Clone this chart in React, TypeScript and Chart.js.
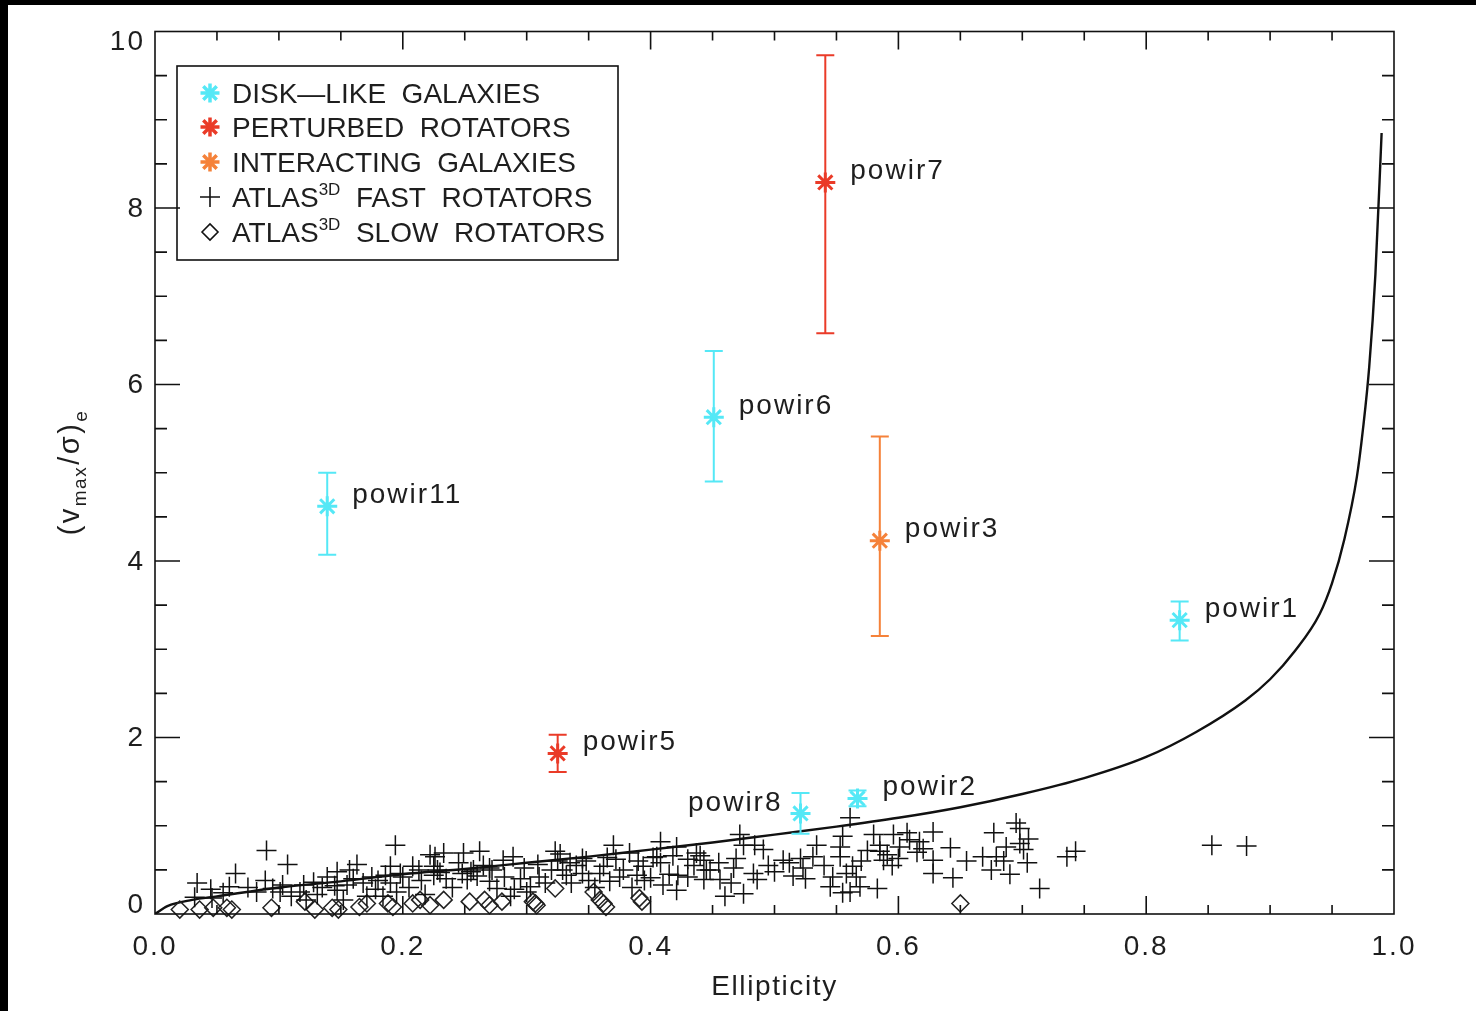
import React, { useEffect, useRef } from 'react';
import { Chart, registerables } from 'chart.js';
Chart.register(...registerables);

// ---- Theoretical edge-on rotator curve ----
const curveEps = [0, 0.01, 0.03, 0.05, 0.1, 0.15, 0.2, 0.25, 0.3, 0.35, 0.4, 0.45, 0.5, 0.55, 0.6, 0.65, 0.7, 0.75, 0.8, 0.84, 0.88, 0.9, 0.92, 0.94, 0.95, 0.96, 0.97, 0.975, 0.98, 0.985, 0.99];
const curveV = [0, 0.09, 0.16, 0.2, 0.3, 0.37, 0.45, 0.51, 0.58, 0.65, 0.73, 0.81, 0.9, 0.99, 1.09, 1.21, 1.36, 1.54, 1.78, 2.06, 2.42, 2.66, 2.98, 3.4, 3.75, 4.25, 4.95, 5.5, 6.2, 7.25, 8.85];

// ---- ATLAS3D fast rotators ----
const fastEps = [0.034, 0.032, 0.046, 0.060, 0.065, 0.055, 0.090, 0.089, 0.082, 0.107, 0.103, 0.101, 0.117, 0.122, 0.131, 0.139, 0.147, 0.157, 0.163, 0.147, 0.152, 0.168, 0.171, 0.194, 0.190, 0.190, 0.195, 0.184, 0.208, 0.213, 0.222, 0.225, 0.226, 0.233, 0.228, 0.225, 0.249, 0.262, 0.248, 0.252, 0.257, 0.270, 0.276, 0.281, 0.289, 0.282, 0.287, 0.303, 0.300, 0.309, 0.323, 0.327, 0.329, 0.332, 0.345, 0.336, 0.362, 0.359, 0.370, 0.367, 0.378, 0.383, 0.389, 0.394, 0.400, 0.408, 0.408, 0.421, 0.422, 0.421, 0.410, 0.437, 0.445, 0.443, 0.456, 0.443, 0.448, 0.472, 0.475, 0.484, 0.469, 0.467, 0.460, 0.475, 0.483, 0.486, 0.491, 0.507, 0.512, 0.521, 0.523, 0.534, 0.531, 0.547, 0.545, 0.553, 0.553, 0.555, 0.561, 0.558, 0.563, 0.566, 0.555, 0.561, 0.569, 0.583, 0.580, 0.585, 0.585, 0.591, 0.596, 0.601, 0.607, 0.609, 0.588, 0.617, 0.628, 0.628, 0.628, 0.642, 0.644, 0.668, 0.677, 0.675, 0.679, 0.687, 0.695, 0.698, 0.698, 0.701, 0.704, 0.714, 0.736, 0.743, 0.853, 0.881,
  0.120, 0.135, 0.160, 0.175, 0.200, 0.205, 0.215, 0.235, 0.240, 0.260, 0.265, 0.295, 0.310, 0.315, 0.340, 0.350, 0.355, 0.375, 0.385, 0.395, 0.415, 0.430, 0.435, 0.455, 0.465, 0.495, 0.500, 0.515, 0.525, 0.540, 0.570, 0.575, 0.595, 0.600, 0.615, 0.620, 0.655, 0.685, 0.690, 0.705, 0.045, 0.075, 0.095, 0.110, 0.145, 0.178, 0.186, 0.218, 0.245, 0.270, 0.290, 0.320, 0.325, 0.345, 0.365, 0.390, 0.405, 0.430,
  0.128, 0.155, 0.180, 0.198, 0.230, 0.255, 0.272, 0.298, 0.335, 0.348, 0.372, 0.402, 0.418, 0.440];
const fastV = [0.35, 0.19, 0.18, 0.31, 0.46, 0.24, 0.72, 0.38, 0.25, 0.56, 0.33, 0.25, 0.25, 0.16, 0.22, 0.42, 0.48, 0.50, 0.56, 0.27, 0.16, 0.35, 0.20, 0.78, 0.54, 0.35, 0.25, 0.20, 0.54, 0.50, 0.67, 0.54, 0.65, 0.69, 0.50, 0.44, 0.69, 0.71, 0.46, 0.39, 0.50, 0.37, 0.29, 0.61, 0.65, 0.42, 0.20, 0.31, 0.25, 0.56, 0.71, 0.68, 0.50, 0.44, 0.46, 0.35, 0.54, 0.46, 0.78, 0.37, 0.50, 0.69, 0.44, 0.54, 0.41, 0.82, 0.58, 0.76, 0.44, 0.27, 0.33, 0.69, 0.50, 0.39, 0.39, 0.61, 0.50, 0.90, 0.78, 0.78, 0.63, 0.52, 0.20, 0.23, 0.46, 0.39, 0.73, 0.61, 0.58, 0.63, 0.52, 0.78, 0.65, 0.42, 0.31, 0.76, 0.65, 0.88, 1.09, 0.46, 0.54, 0.42, 0.24, 0.25, 0.31, 0.29, 0.90, 0.78, 0.71, 0.67, 0.90, 0.76, 0.92, 0.84, 0.61, 0.82, 0.93, 0.61, 0.46, 0.75, 0.41, 0.65, 0.92, 0.50, 0.65, 0.76, 1.03, 0.97, 0.80, 0.73, 0.58, 0.29, 0.65, 0.71, 0.78, 0.77,
  0.33, 0.30, 0.40, 0.42, 0.42, 0.30, 0.38, 0.40, 0.30, 0.43, 0.55, 0.40, 0.42, 0.35, 0.55, 0.38, 0.30, 0.42, 0.30, 0.38, 0.45, 0.42, 0.55, 0.58, 0.35, 0.55, 0.48, 0.43, 0.40, 0.55, 0.60, 0.72, 0.55, 0.63, 0.70, 0.74, 0.60, 0.60, 0.45, 0.85, 0.28, 0.30, 0.29, 0.20, 0.32, 0.28, 0.44, 0.22, 0.58, 0.52, 0.28, 0.50, 0.60, 0.63, 0.64, 0.60, 0.65, 0.62,
  0.36, 0.33, 0.38, 0.46, 0.47, 0.48, 0.50, 0.52, 0.58, 0.60, 0.62, 0.64, 0.66, 0.66];

// ---- ATLAS3D slow rotators ----
const slowEps = [0.020, 0.036, 0.047, 0.062, 0.058, 0.094, 0.121, 0.129, 0.143, 0.148, 0.165, 0.171, 0.188, 0.192, 0.208, 0.214, 0.222, 0.233, 0.254, 0.266, 0.270, 0.280, 0.305, 0.307, 0.308, 0.323, 0.354, 0.359, 0.362, 0.364, 0.391, 0.393, 0.650];
const slowV = [0.05, 0.05, 0.07, 0.05, 0.07, 0.07, 0.14, 0.05, 0.07, 0.05, 0.08, 0.12, 0.12, 0.08, 0.12, 0.16, 0.10, 0.16, 0.14, 0.16, 0.10, 0.14, 0.14, 0.12, 0.10, 0.29, 0.25, 0.16, 0.12, 0.08, 0.18, 0.14, 0.12];

// ---- POWIR galaxies ----
const galaxyNames = ['powir1', 'powir2', 'powir3', 'powir5', 'powir6', 'powir7', 'powir8', 'powir11'];
const galaxyClass = ['disk', 'disk', 'interacting', 'perturbed', 'disk', 'perturbed', 'disk', 'disk'];
const galaxyEps = [0.827, 0.567, 0.585, 0.325, 0.451, 0.541, 0.521, 0.139];
const galaxyV = [3.33, 1.31, 4.23, 1.82, 5.63, 8.29, 1.14, 4.62];
const galaxyErrLo = [3.10, 1.22, 3.15, 1.61, 4.90, 6.58, 0.91, 4.07];
const galaxyErrHi = [3.54, 1.40, 5.41, 2.03, 6.38, 9.73, 1.37, 5.00];

// ---- Axis ticks / labels ----
const xTickStep = 0.2;
const yTickLabels = [0, 2, 4, 6, 8, 10];
const xTitle = 'Ellipticity';
const legendLabels = ['DISK—LIKE  GALAXIES', 'PERTURBED  ROTATORS', 'INTERACTING  GALAXIES', 'ATLAS|3D|  FAST  ROTATORS', 'ATLAS|3D|  SLOW  ROTATORS'];

const FONT = '"Liberation Sans", Arial, Helvetica, sans-serif';
const TXT = '#1e1e1e';
const CYAN = '#55e8f6';
const RED = '#ea3b28';
const ORANGE = '#f5823a';
const classColor: Record<string, string> = { disk: CYAN, perturbed: RED, interacting: ORANGE };

function starPath(ctx: CanvasRenderingContext2D, x: number, y: number, r: number) {
  ctx.beginPath();
  ctx.moveTo(x - r, y); ctx.lineTo(x + r, y);
  ctx.moveTo(x, y - r); ctx.lineTo(x, y + r);
  const d = r * Math.SQRT1_2;
  ctx.moveTo(x - d, y - d); ctx.lineTo(x + d, y + d);
  ctx.moveTo(x - d, y + d); ctx.lineTo(x + d, y - d);
  ctx.stroke();
}

const decorPlugin = {
  id: 'decor',
  beforeDraw(chart: any) {
    chart.ctx.letterSpacing = '2px';
  },
  afterDatasetsDraw(chart: any) {
    const { ctx, scales: { x, y } } = chart;
    ctx.save();
    ctx.letterSpacing = '0px';
    // error bars
    galaxyNames.forEach((_, i) => {
      const px = x.getPixelForValue(galaxyEps[i]);
      const yl = y.getPixelForValue(galaxyErrLo[i]);
      const yh = y.getPixelForValue(galaxyErrHi[i]);
      ctx.strokeStyle = classColor[galaxyClass[i]];
      ctx.lineWidth = 2;
      ctx.beginPath();
      ctx.moveTo(px, yl); ctx.lineTo(px, yh);
      ctx.moveTo(px - 9, yl); ctx.lineTo(px + 9, yl);
      ctx.moveTo(px - 9, yh); ctx.lineTo(px + 9, yh);
      ctx.stroke();
    });
    // names
    ctx.font = `28px ${FONT}`;
    ctx.fillStyle = TXT;
    ctx.textBaseline = 'middle';
    ctx.letterSpacing = '2px';
    galaxyNames.forEach((n, i) => {
      const px = x.getPixelForValue(galaxyEps[i]);
      const py = y.getPixelForValue(galaxyV[i]);
      if (n === 'powir8') {
        ctx.textAlign = 'right';
        ctx.fillText(n, px - 18, py - 10);
      } else {
        ctx.textAlign = 'left';
        ctx.fillText(n, px + 25, py - 11);
      }
    });
    ctx.restore();
  },
  afterDraw(chart: any) {
    const { ctx, chartArea: { left, right, top, bottom }, scales: { x, y } } = chart;
    ctx.save();
    ctx.letterSpacing = '0px';
    ctx.strokeStyle = '#111';
    ctx.lineWidth = 1.6;
    ctx.strokeRect(left, top, right - left, bottom - top);
    ctx.beginPath();
    for (let i = 1; i < 20; i++) {
      const v = i * 0.05;
      const len = i % 4 === 0 ? 18 : 9;
      const px = x.getPixelForValue(v);
      ctx.moveTo(px, bottom); ctx.lineTo(px, bottom - len);
      ctx.moveTo(px, top); ctx.lineTo(px, top + len);
    }
    for (let i = 1; i < 20; i++) {
      const v = i * 0.5;
      const len = i % 4 === 0 ? 25 : 12;
      const py = y.getPixelForValue(v);
      ctx.moveTo(left, py); ctx.lineTo(left + len, py);
      ctx.moveTo(right, py); ctx.lineTo(right - len, py);
    }
    ctx.stroke();

    // y tick labels
    ctx.font = `28px ${FONT}`;
    ctx.fillStyle = TXT;
    ctx.textAlign = 'right';
    ctx.textBaseline = 'middle';
    ctx.letterSpacing = '2px';
    yTickLabels.forEach((v) => {
      const py = y.getPixelForValue(v);
      const off = v === 10 ? 11 : v === 0 ? -9 : 1;
      ctx.fillText(String(v), left - 10, py + off);
    });

    // x title
    ctx.textAlign = 'center';
    ctx.letterSpacing = '1.6px';
    ctx.fillText(xTitle, (left + right) / 2, 982);

    // y title
    ctx.save();
    ctx.translate(61, 467);
    ctx.rotate(-Math.PI / 2);
    ctx.letterSpacing = '1.5px';
    ctx.textAlign = 'left';
    ctx.textBaseline = 'alphabetic';
    const parts: [string, number, number][] = [['(', 29, 0], ['v', 29, 0], ['max', 19, 7], ['/', 29, 0], ['σ', 29, 0], [')', 29, 0], ['e', 19, 8]];
    let total = 0;
    parts.forEach(([t, s]) => { ctx.font = `${s}px ${FONT}`; total += ctx.measureText(t).width + 1; });
    let cx = -total / 2;
    parts.forEach(([t, s, dy]) => {
      ctx.font = `${s}px ${FONT}`;
      ctx.fillText(t, cx, 10 + dy);
      cx += ctx.measureText(t).width + 1;
    });
    ctx.restore();

    // legend
    const bx = 169, byTop = 61, bw = 441, bh = 194;
    ctx.lineWidth = 1.6;
    ctx.strokeStyle = '#111';
    ctx.strokeRect(bx, byTop, bw, bh);
    const rows = [88, 122, 157, 192, 227];
    const symX = 202, txtX = 224;
    ctx.textAlign = 'left';
    ctx.textBaseline = 'alphabetic';
    ctx.letterSpacing = '0px';
    legendLabels.forEach((lab, i) => {
      const ry = rows[i];
      if (i < 3) {
        ctx.strokeStyle = [CYAN, RED, ORANGE][i];
        ctx.lineWidth = 3.5;
        ctx.lineCap = 'butt';
        starPath(ctx, symX, ry, 9.5);
      } else if (i === 3) {
        ctx.strokeStyle = '#111'; ctx.lineWidth = 1.6;
        ctx.beginPath();
        ctx.moveTo(symX - 10, ry); ctx.lineTo(symX + 10, ry);
        ctx.moveTo(symX, ry - 10); ctx.lineTo(symX, ry + 10);
        ctx.stroke();
      } else {
        ctx.strokeStyle = '#111'; ctx.lineWidth = 1.6;
        ctx.beginPath();
        ctx.moveTo(symX - 8, ry); ctx.lineTo(symX, ry - 8); ctx.lineTo(symX + 8, ry); ctx.lineTo(symX, ry + 8); ctx.closePath();
        ctx.stroke();
      }
      ctx.fillStyle = TXT;
      const segs = lab.split('|');
      let tx = txtX;
      segs.forEach((sg, k) => {
        const sup = k === 1;
        ctx.font = `${sup ? 17 : 28}px ${FONT}`;
        ctx.fillText(sg, tx, ry + 10 - (sup ? 12 : 0));
        tx += ctx.measureText(sg).width;
      });
    });
    ctx.restore();
  },
};

export default function App() {
  const ref = useRef<HTMLCanvasElement | null>(null);
  useEffect(() => {
    if (!ref.current) return;
    const chart = new Chart(ref.current, {
      type: 'scatter',
      data: {
        datasets: [
          {
            type: 'line',
            label: 'rotator',
            data: curveEps.map((e, i) => ({ x: e, y: curveV[i] })),
            borderColor: '#111',
            borderWidth: 2.4,
            pointRadius: 0,
            fill: false,
            cubicInterpolationMode: 'monotone',
            order: 5,
          } as any,
          {
            label: 'ATLAS3D FAST ROTATORS',
            data: fastEps.map((e, i) => ({ x: e, y: fastV[i] })),
            pointStyle: 'cross',
            pointRadius: 10,
            borderWidth: 1.5,
            borderColor: '#111',
            order: 3,
            clip: false,
          } as any,
          {
            label: 'ATLAS3D SLOW ROTATORS',
            data: slowEps.map((e, i) => ({ x: e, y: slowV[i] })),
            pointStyle: 'rectRot',
            pointRadius: 8.5,
            borderWidth: 1.5,
            borderColor: '#222',
            backgroundColor: 'rgba(0,0,0,0)',
            order: 4,
            clip: false,
          } as any,
          ...(['disk', 'perturbed', 'interacting'] as const).map((c, k) => ({
            label: ['DISK-LIKE GALAXIES', 'PERTURBED ROTATORS', 'INTERACTING GALAXIES'][k],
            data: galaxyEps.map((e, i) => ({ x: e, y: galaxyV[i] })).filter((_, i) => galaxyClass[i] === c),
            pointStyle: 'star',
            pointRadius: 10,
            borderWidth: 3,
            borderColor: classColor[c],
            backgroundColor: classColor[c],
            order: 1,
          } as any)),
        ],
      },
      options: {
        responsive: false,
        animation: false,
        devicePixelRatio: 1,
        layout: { padding: { left: 0, top: 26.5, right: 82, bottom: 0 } },
        plugins: { legend: { display: false }, tooltip: { enabled: false } },
        scales: {
          x: {
            type: 'linear',
            min: 0,
            max: 1,
            grid: { display: false, drawTicks: false },
            border: { display: false },
            ticks: {
              stepSize: xTickStep,
              autoSkip: false,
              maxRotation: 0,
              padding: 16,
              color: TXT,
              font: { family: FONT, size: 28 },
              callback: (v: any) => Number(v).toFixed(1),
            },
            afterFit: (s: any) => { s.height = 97; },
          },
          y: {
            type: 'linear',
            min: 0,
            max: 10,
            grid: { display: false, drawTicks: false },
            border: { display: false },
            ticks: { display: false },
            afterFit: (s: any) => { s.width = 147; },
          },
        },
      },
      plugins: [decorPlugin],
    } as any);
    return () => chart.destroy();
  }, []);
  return (
    <div style={{ position: 'fixed', inset: 0, background: '#000' }}>
      <div style={{ position: 'absolute', left: 8, top: 5, width: 1468, height: 1006, background: '#fff' }}>
        <canvas ref={ref} width={1468} height={1006} style={{ display: 'block' }} />
      </div>
    </div>
  );
}
